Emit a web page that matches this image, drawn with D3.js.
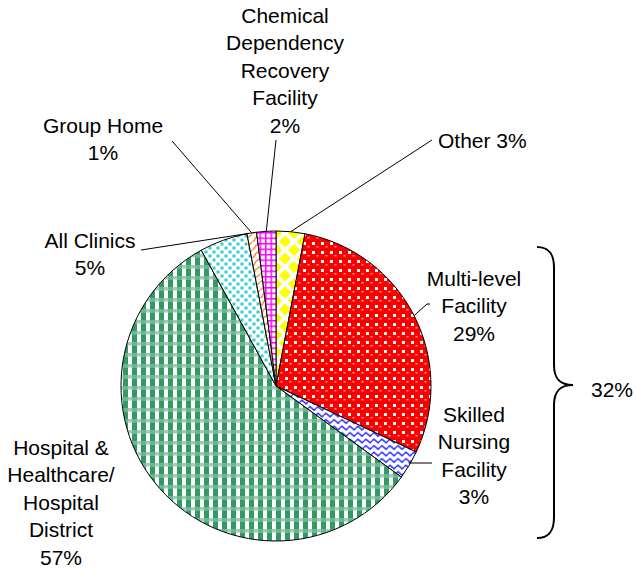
<!DOCTYPE html>
<html>
<head>
<meta charset="utf-8">
<script src="https://cdn.jsdelivr.net/npm/d3@7"></script>
<style>
  body { margin: 0; background: #fff; }
  text { font-family: Arial, "Liberation Sans", sans-serif; font-size: 21px; fill: #000; }
</style>
</head>
<body>
<div class="chart"></div>
<script>
// slice order, clockwise from 12 o'clock
const categories = ["Other", "Multi-level Facility", "Skilled Nursing Facility",
  "Hospital & Healthcare/ Hospital District", "All Clinics", "Group Home",
  "Chemical Dependency Recovery Facility"];
const shares = [3, 29, 3, 57, 5, 1, 2];
const labelLines = [
  ["Other 3%"],
  ["Multi-level", "Facility", "29%"],
  ["Skilled", "Nursing", "Facility", "3%"],
  ["Hospital &", "Healthcare/", "Hospital", "District", "57%"],
  ["All Clinics", "5%"],
  ["Group Home", "1%"],
  ["Chemical", "Dependency", "Recovery", "Facility", "2%"]
];
const bracketGroup = ["Multi-level Facility", "Skilled Nursing Facility"];

const width = 636, height = 571;
const cx = 276, cy = 386, radius = 155;
const lineH = 27.5;

// where Excel put each label (first line centre) and where the leader starts
const labelLayout = [
  {x: 438, y: 140, anchor: "start", lead: [432, 140]},
  {x: 474, y: 278, anchor: "middle", lead: [430, 304], elbow: [427, 304]},
  {x: 474, y: 414, anchor: "middle", lead: [432, 463], flat: true},
  {x: 61, y: 447, anchor: "middle"},
  {x: 90, y: 240, anchor: "middle", lead: [141, 250], angle: 350},
  {x: 103, y: 125, anchor: "middle", lead: [172, 141]},
  {x: 285, y: 15, anchor: "middle", lead: [276, 140]}
];

const svg = d3.select(".chart").append("svg")
  .attr("width", width)
  .attr("height", height);

const defs = svg.append("defs");

function pattern(id, w, h) {
  return defs.append("pattern")
    .attr("id", id)
    .attr("patternUnits", "userSpaceOnUse")
    .attr("width", w)
    .attr("height", h);
}

// yellow diamonds
let p = pattern("pOther", 18, 17);
p.append("rect").attr("width", 18).attr("height", 17).attr("fill", "#fff");
[[9, 8.5], [0, 0], [18, 0], [0, 17], [18, 17]].forEach(c => {
  p.append("path")
    .attr("d", `M${c[0]},${c[1] - 6}L${c[0] + 6},${c[1]}L${c[0]},${c[1] + 6}L${c[0] - 6},${c[1]}Z`)
    .attr("fill", "#ffff00");
});

// red spheres
p = pattern("pMulti", 9, 9);
p.append("rect").attr("width", 9).attr("height", 9).attr("fill", "#ff0000");
p.append("rect").attr("x", 0).attr("y", 0).attr("width", 3).attr("height", 3).attr("fill", "#fff");
p.append("rect").attr("x", 4.5).attr("y", 4).attr("width", 2).attr("height", 1.5).attr("fill", "#ff9a9a");
p.append("rect").attr("x", 3.5).attr("y", 7.5).attr("width", 4).attr("height", 1).attr("fill", "#d40000");

// blue waves
p = pattern("pSkilled", 8, 6.5);
p.append("rect").attr("width", 8).attr("height", 6.5).attr("fill", "#fff");
p.append("path").attr("d", "M0,3L2,1.2L4,3L6,4.8L8,3")
  .attr("fill", "none").attr("stroke", "#3333ff").attr("stroke-width", 1.6);

// green gingham
p = pattern("pHospital", 9, 11);
p.append("rect").attr("width", 9).attr("height", 11).attr("fill", "#fff");
p.append("rect").attr("y", 0).attr("width", 9).attr("height", 3.5).attr("fill", "#9fcfb7");
p.append("rect").attr("x", 0).attr("y", 0).attr("width", 5).attr("height", 3.5).attr("fill", "#6cb690");
p.append("rect").attr("x", 0).attr("y", 3.5).attr("width", 5).attr("height", 7.5).attr("fill", "#339966");

// cyan dots
p = pattern("pClinics", 8, 8);
p.append("rect").attr("width", 8).attr("height", 8).attr("fill", "#fff");
p.append("rect").attr("x", 0.5).attr("y", 0.5).attr("width", 3).attr("height", 3).attr("fill", "#33cccc");
p.append("rect").attr("x", 4.5).attr("y", 4.5).attr("width", 3).attr("height", 3).attr("fill", "#33cccc");

// orange squiggles
p = pattern("pGroup", 8, 8);
p.append("rect").attr("width", 8).attr("height", 8).attr("fill", "#fff");
p.append("path").attr("d", "M8,0C6,3 4,2 3,5S1,7 0,8")
  .attr("fill", "none").attr("stroke", "#ff8c40").attr("stroke-width", 1.5);

// magenta grid
p = pattern("pChem", 5.5, 5.5);
p.append("rect").attr("width", 5.5).attr("height", 5.5).attr("fill", "#ff00ff");
p.append("rect").attr("x", 1.5).attr("y", 1.5).attr("width", 4).attr("height", 4).attr("fill", "#fff");

const fills = ["pOther", "pMulti", "pSkilled", "pHospital", "pClinics", "pGroup", "pChem"];

const data = categories.map((c, i) => ({category: c, share: shares[i], lines: labelLines[i], idx: i}));

const pie = d3.pie()
  .sort(null)
  .value(d => d.share)
  .startAngle(0)
  .endAngle(2 * Math.PI);

const arc = d3.arc()
  .innerRadius(0)
  .outerRadius(radius);

const arcs = pie(data);

const g = svg.append("g")
  .attr("transform", "translate(" + cx + "," + cy + ")");

g.selectAll(".slice")
  .data(arcs)
  .enter()
  .append("path")
  .attr("class", "slice")
  .attr("d", arc)
  .attr("fill", d => "url(#" + fills[d.index] + ")")
  .attr("stroke", "#000")
  .attr("stroke-width", 1);

// point on the rim at a given angle (radians, clockwise from top)
function rim(a, r) {
  return [cx + r * Math.sin(a), cy - r * Math.cos(a)];
}

// leader lines
arcs.forEach(d => {
  const L = labelLayout[d.index];
  if (!L.lead) return;
  let a = (d.startAngle + d.endAngle) / 2;
  if (L.angle !== undefined) a = L.angle * Math.PI / 180;
  let end = rim(a, radius);
  let pts;
  if (L.flat) {
    end = rim(a, radius - 1);
    pts = [[end[0], L.lead[1]], L.lead];
  } else if (L.elbow) {
    pts = [end, L.elbow, L.lead];
  } else {
    pts = [L.lead, end];
  }
  svg.append("path")
    .attr("d", d3.line()(pts))
    .attr("fill", "none")
    .attr("stroke", "#000")
    .attr("stroke-width", 1);
});

// labels
data.forEach((d, i) => {
  const L = labelLayout[i];
  const t = svg.append("text")
    .attr("text-anchor", L.anchor);
  d.lines.forEach((s, j) => {
    t.append("tspan")
      .attr("x", L.x)
      .attr("y", L.y + j * lineH)
      .attr("dy", "0.36em")
      .text(s);
  });
});

// brace for the two long-term care slices
const groupArcs = arcs.filter(d => bracketGroup.includes(d.data.category));
const groupTotal = d3.sum(groupArcs, d => d.data.share);
const bx = 537, by0 = 247, by1 = 538, tipX = 573, tipY = 385, sx = 554;
svg.append("path")
  .attr("d", `M${bx},${by0}C${bx + 13},${by0} ${sx},${by0 + 8} ${sx},${by0 + 21}` +
    `L${sx},${tipY - 20}C${sx},${tipY - 6} ${sx + 6},${tipY} ${tipX},${tipY}` +
    `C${sx + 6},${tipY} ${sx},${tipY + 6} ${sx},${tipY + 20}` +
    `L${sx},${by1 - 21}C${sx},${by1 - 8} ${bx + 13},${by1} ${bx},${by1}`)
  .attr("fill", "none")
  .attr("stroke", "#000")
  .attr("stroke-width", 2);

svg.append("text")
  .attr("x", 591)
  .attr("y", 389)
  .attr("dy", "0.36em")
  .text(groupTotal + "%");
</script>
</body>
</html>
